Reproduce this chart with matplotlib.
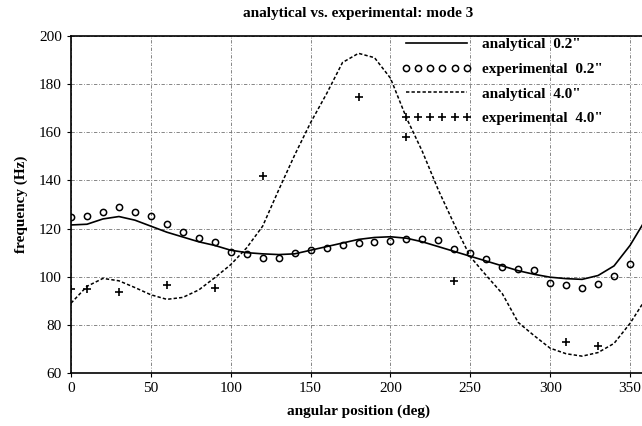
import matplotlib
matplotlib.use("Agg")
import matplotlib.pyplot as plt

# analytical curves, sampled every 10 deg
ang = list(range(0, 370, 10))
ana_02 = [121.5, 121.8, 124, 125, 123.5, 121, 118.5, 116.5, 114.5, 113,
          111, 110, 109.5, 109.2, 109.5, 111, 112.5, 114, 115.5, 116.3,
          116.6, 116, 114.5, 112.5, 110.5, 108.5, 106.5, 104.5, 102.5, 101,
          99.8, 99.2, 98.9, 100.5, 104.5, 113, 124]
ana_40 = [89, 96, 99.3, 98.3, 95.5, 92.5, 90.6, 91.4, 94.5, 99.6,
          105, 112, 121, 136, 150.5, 164, 176, 189, 192.8, 191,
          182.5, 166, 152, 136, 121.7, 108.3, 100.5, 93, 81, 75.5,
          70.3, 68, 67, 68.5, 72.3, 80.6, 91]

# experimental 0.2"
exp_02_x = list(range(0, 360, 10))
exp_02_y = [125, 125.2, 127, 128.8, 127, 125.3, 121.9, 118.7, 116.2, 114.3,
            110.4, 109.4, 107.9, 107.6, 110, 111.1, 112, 113, 113.9, 114.4,
            115, 115.8, 115.5, 115.4, 111.6, 110, 107.2, 104.2, 103.1, 102.7,
            97.4, 96.6, 95.2, 97, 100.4, 105.1]

# experimental 4.0"
exp_40_x = [0, 10, 30, 60, 90, 120, 180, 210, 240, 310, 330]
exp_40_y = [94.8, 95, 93.6, 96.4, 95.2, 141.8, 174.8, 158.2, 98.2, 72.7, 71.3]

serif = ['Liberation Serif', 'DejaVu Serif']
plt.rcParams['font.family'] = serif

fig = plt.figure(figsize=(6.42, 4.26), dpi=100)
ax = fig.add_axes([71 / 642, 1 - 373 / 426, 575 / 642, 337 / 426])

ax.plot(ang, ana_02, color='black', lw=1.2, label='analytical  0.2"')
ax.plot(exp_02_x, exp_02_y, ls='none', marker='o', ms=4.5, mfc='none',
        mec='black', mew=1.1, label='experimental  0.2"')
ax.plot(ang, ana_40, color='black', lw=1.1, ls=(0, (2.2, 1.4)),
        label='analytical  4.0"')
ax.plot(exp_40_x, exp_40_y, ls='none', marker='+', ms=5.5, mec='black',
        mew=1.2, label='experimental  4.0"')

ax.set_xlim(0, 360)
ax.set_ylim(60, 200)
ax.set_xticks(range(0, 360, 50))
ax.set_yticks(range(60, 201, 20))
ax.grid(True, color='0.45', lw=0.6, ls=(0, (4, 2, 1, 2)))
ax.tick_params(labelsize=11, length=3, width=0.8)
for s in ax.spines.values():
    s.set_linewidth(1.2)

ax.set_title('analytical vs. experimental: mode 3', fontsize=11, pad=14,
             fontweight='bold')
ax.set_xlabel('angular position (deg)', fontsize=11, labelpad=7,
              fontweight='bold')
ax.set_ylabel('frequency (Hz)', fontsize=11, labelpad=8, fontweight='bold')

leg = ax.legend(loc='upper left', bbox_to_anchor=(0.574, 0.995),
                frameon=False, numpoints=6, handlelength=4.6,
                handletextpad=0.7, labelspacing=0.72, borderpad=0,
                borderaxespad=0, prop={'family': serif, 'size': 11,
                                       'weight': 'bold'})

fig.savefig('out.png', dpi=100)
